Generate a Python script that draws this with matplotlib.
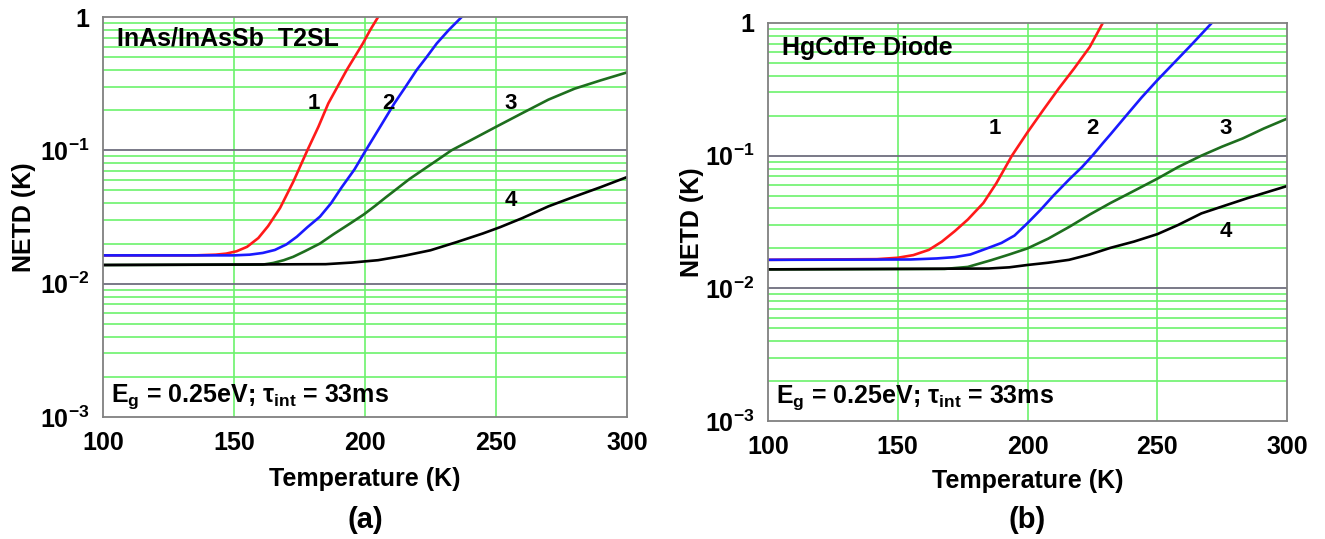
import matplotlib
matplotlib.use("Agg")
import matplotlib.pyplot as plt
from matplotlib.ticker import FixedLocator, NullFormatter

plt.rcParams['font.family'] = ['Liberation Sans', 'DejaVu Sans']
plt.rcParams['font.weight'] = 'bold'
plt.rcParams['mathtext.fontset'] = 'custom'
plt.rcParams['mathtext.rm'] = 'Liberation Sans:bold'
plt.rcParams['mathtext.it'] = 'Liberation Sans:bold'
plt.rcParams['mathtext.bf'] = 'Liberation Sans:bold'
plt.rcParams['mathtext.sf'] = 'Liberation Sans:bold'

# ---------------- data: panel (a) InAs/InAsSb T2SL ----------------
a1_T = [100, 135, 143, 147, 151, 155, 159.3, 163, 167.6, 172.6, 178, 182.2, 186, 189.5, 193, 196, 199.2, 202, 205]
a1_V = [.0163, .0163, .0165, .0168, .0175, .0189, .0220, .027, .037, .058, .1, .15, .225, .30, .40, .50, .634, .80, 1.0]

a2_T = [100, 150, 156, 161, 165.6, 170, 174, 178, 182.8, 187, 191, 196, 200.3, 205.5, 211.2, 215.5, 219.7, 223.5, 227.4, 232, 236.9]
a2_V = [.0163, .0163, .0165, .0170, .0179, .0197, .0225, .0265, .0318, .040, .0525, .072, .1, .147, .225, .30, .40, .50, .634, .80, 1.0]

a3_T = [100, 161, 165, 169, 172.6, 177, 182.8, 188, 194, 199.5, 204, 208, 213, 217, 221, 227, 233, 240, 250, 260, 270, 280, 290, 300]
a3_V = [.0138, .0139, .0143, .0150, .0159, .0175, .020, .0235, .0280, .033, .0385, .0445, .053, .061, .069, .083, .100, .118, .150, .19, .24, .29, .335, .384]

a4_T = [100, 185, 195, 205, 215, 225, 235, 245, 251.5, 260, 270, 280, 290, 300]
a4_V = [.0138, .0140, .0144, .0150, .0162, .0178, .0205, .0238, .0265, .031, .038, .045, .053, .063]

# ---------------- data: panel (b) HgCdTe diode ----------------
b1_T = [100, 142, 150, 156, 162, 167, 172, 177, 183, 188, 194, 200, 206, 212, 218, 224, 229]
b1_V = [.0164, .0166, .0170, .0178, .0195, .0225, .027, .033, .044, .062, .100, .150, .22, .32, .455, .66, 1.0]

b2_T = [100, 155, 165, 172, 178, 185, 190, 195, 200, 205, 210, 216, 221, 225, 229, 232, 238, 244, 250, 256, 263, 271]
b2_V = [.0164, .0165, .0168, .0172, .0180, .0202, .022, .025, .031, .039, .050, .066, .082, .100, .124, .145, .20, .275, .37, .49, .68, 1.0]

b3_T = [100, 168, 177, 186, 193, 200, 208, 216, 224, 232, 240, 250, 258, 267, 275, 283, 291, 300]
b3_V = [.0139, .0140, .0145, .0163, .0180, .020, .0237, .029, .036, .044, .053, .067, .082, .100, .117, .135, .160, .19]

b4_T = [100, 185, 193, 200, 208, 216, 224, 232, 241, 250, 258, 267, 276, 285, 300]
b4_V = [.0139, .0141, .0144, .0150, .0156, .0164, .0180, .0202, .0225, .0256, .030, .0367, .042, .048, .059]

curve_labels = ['1', '2', '3', '4']
a_label_T = [180.3, 209, 255.5, 255.5]
a_label_V = [0.225, 0.225, 0.225, 0.042]
b_label_T = [187.5, 225, 276.5, 276.5]
b_label_V = [0.16, 0.16, 0.16, 0.027]

x_ticks = [100, 150, 200, 250, 300]
y_ticks = [1e-3, 1e-2, 1e-1, 1]
y_tick_labels = [r'$10^{-3}$', r'$10^{-2}$', r'$10^{-1}$', '1']

titles_in = ['InAs/InAsSb  T2SL', 'HgCdTe Diode']
panel_tags = ['(a)', '(b)']
cond_text = r'E$_{g}$ = 0.25eV; $\tau_{int}$ = 33ms'

colors = ['#ff1a1a', '#1a1aff', '#1e6e1e', '#000000']

W, H = 1325, 539
fig = plt.figure(figsize=(W / 100, H / 100), dpi=100)

def box(l, t, r, b):
    return [l / W, 1 - b / H, (r - l) / W, (b - t) / H]

axA = fig.add_axes(box(103, 17, 627, 417))
axB = fig.add_axes(box(768, 23, 1287, 421))

panels = [
    (axA, [(a1_T, a1_V), (a2_T, a2_V), (a3_T, a3_V), (a4_T, a4_V)], a_label_T, a_label_V, titles_in[0], 0.69, 0.05),
    (axB, [(b1_T, b1_V), (b2_T, b2_V), (b3_T, b3_V), (b4_T, b4_V)], b_label_T, b_label_V, titles_in[1], 0.65, 0.058),
]

grid_green = '#6cf26c'
major_gray = '#6e6e7e'

for ax, series, lT, lV, ttl, ttl_y, cond_y in panels:
    ax.set_yscale('log')
    ax.set_xlim(100, 300)
    ax.set_ylim(1e-3, 1)
    minor_vals = [m * 10.0 ** e for e in (-3, -2, -1) for m in range(2, 10)]
    for v in minor_vals:
        ax.axhline(v, color=grid_green, lw=1.2, zorder=1)
    for v in (1e-2, 1e-1):
        ax.axhline(v, color=major_gray, lw=1.3, zorder=1.5)
    for x in (150, 200, 250):
        ax.axvline(x, color=grid_green, lw=1.2, zorder=1)
    for (T, V), c in zip(series, colors):
        ax.plot(T, V, color=c, lw=1.9, zorder=3, solid_joinstyle='round')
    for t, x, y in zip(curve_labels, lT, lV):
        ax.text(x, y, t, fontsize=16, fontweight='bold', ha='center', va='center', zorder=4)
    ax.text(105.5, ttl_y, ttl, fontsize=18, fontweight='bold', ha='left', va='center', zorder=4)
    ax.text(0.016, cond_y, cond_text, transform=ax.transAxes, fontsize=18,
            fontweight='bold', ha='left', va='center', zorder=4)
    ax.set_xticks(x_ticks)
    ax.set_xticklabels([str(v) for v in x_ticks])
    ax.yaxis.set_major_locator(FixedLocator(y_ticks))
    ax.set_yticklabels(y_tick_labels)
    ax.yaxis.set_minor_locator(FixedLocator([]))
    ax.yaxis.set_minor_formatter(NullFormatter())
    ax.tick_params(axis='both', which='both', length=0, labelsize=18)
    ax.tick_params(axis='x', pad=10)
    ax.tick_params(axis='y', pad=10)
    for s in ax.spines.values():
        s.set_color('#808080')
        s.set_linewidth(1.3)
        s.set_zorder(5)
    ax.set_xlabel('Temperature (K)', fontsize=18, fontweight='bold')
    ax.set_ylabel('NETD (K)', fontsize=18, fontweight='bold')

axA.xaxis.set_label_coords(0.5, -0.125)
axB.xaxis.set_label_coords(0.5, -0.12)
axA.yaxis.set_label_coords(-0.128, 0.5)
axB.yaxis.set_label_coords(-0.123, 0.5)

fig.text(365 / W, 1 - 520 / H, panel_tags[0], fontsize=21, fontweight='bold', ha='center', va='center')
fig.text(1027 / W, 1 - 520 / H, panel_tags[1], fontsize=21, fontweight='bold', ha='center', va='center')

fig.savefig('out.png', dpi=100)
